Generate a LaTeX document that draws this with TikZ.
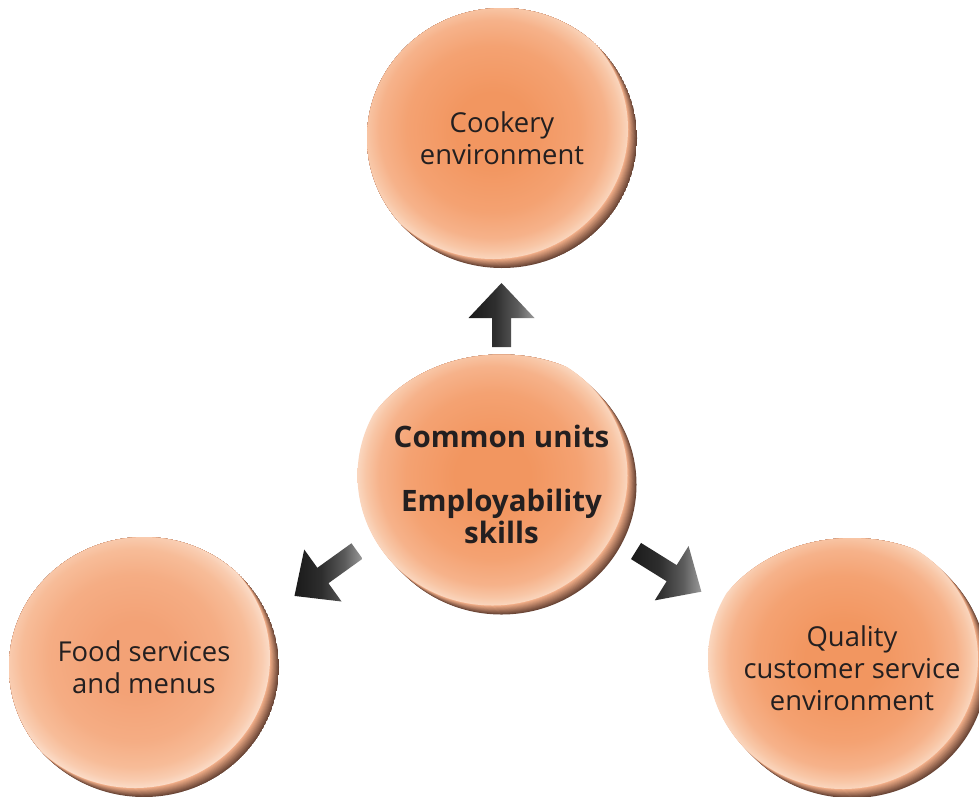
\documentclass[tikz,border=0pt]{standalone}
\usepackage{fontspec}
\setmainfont{Open Sans}
\usetikzlibrary{calc,shapes.geometric}
\definecolor{txt}{HTML}{231F20}
\definecolor{oA}{HTML}{F29660}
\definecolor{oB}{HTML}{F4A272}
\definecolor{oC}{HTML}{F6B28A}
\definecolor{oD}{HTML}{F8C6A6}
\definecolor{oE}{HTML}{FAD6BE}
\definecolor{lA}{HTML}{F3A276}
\definecolor{lB}{HTML}{F5AD84}
\definecolor{lC}{HTML}{F7BC98}
\definecolor{lD}{HTML}{F9CCB0}
\definecolor{lE}{HTML}{FBDCC8}
\definecolor{rA}{HTML}{6A4536}
\definecolor{rZ}{HTML}{F2AE88}
\definecolor{aA}{HTML}{1A1A1A}
\definecolor{aB}{HTML}{2E2E2E}
\definecolor{aC}{HTML}{5C5C5C}
\definecolor{aD}{HTML}{9A9A9A}
\pgfdeclareradialshading{ballO}{\pgfpoint{0bp}{0bp}}{color(0bp)=(oA); color(7bp)=(oA); color(16bp)=(oB); color(21bp)=(oC); color(23.5bp)=(oD); color(25bp)=(oE); color(50bp)=(oE)}
\pgfdeclareradialshading{ballL}{\pgfpoint{0bp}{0bp}}{color(0bp)=(lA); color(7bp)=(lA); color(16bp)=(lB); color(21bp)=(lC); color(23.5bp)=(lD); color(25bp)=(lE); color(50bp)=(lE)}
\pgfdeclarehorizontalshading{arrowsh}{100bp}{color(0bp)=(aA); color(25bp)=(aA); color(45bp)=(aB); color(62bp)=(aC); color(75bp)=(aD); color(100bp)=(aD)}
\newcommand\ballfill[1]{%
  \coordinate (bc) at (path picture bounding box.center);
  \foreach \k in {0,...,11}{%
    \pgfmathsetmacro\pct{\k*9}%
    \pgfmathsetmacro\off{\k*0.75}%
    \fill[rZ!\pct!rA] ([shift={(-\off pt,\off pt)}]bc) ellipse (135pt and 130pt);
  }
  \shade[shading=#1] ([shift={(-9pt,9pt)}]bc) ellipse (135pt and 130pt);
}
\newcommand\blockarr[4]{% tail, angle, shaft length, head half width
  \begin{scope}[shift={(#1)}, rotate=#2]
    \pgfmathsetmacro\myhl{#3+35}
    \shade[shading=arrowsh] (0pt,-9.5pt) -- (#3pt,-9.5pt) -- (#3pt,-#4pt) -- (\myhl pt,0pt)
      -- (#3pt,#4pt) -- (#3pt,9.5pt) -- (0pt,9.5pt) -- cycle;
  \end{scope}}
\tikzset{
  ball/.style={ellipse, minimum width=270pt, minimum height=260pt, inner sep=0pt,
    align=center, text=txt, font=\fontsize{27.4}{32}\selectfont,
    path picture={\ballfill{#1}}},
  ball/.default=ballO,
  bold/.style={font=\fontsize{29.5}{32}\selectfont\bfseries}
}
\begin{document}
\begin{tikzpicture}[x=1pt,y=-1pt]
  \useasboundingbox (0,0) rectangle (979,796);
  \clip (0,0) rectangle (979,796);
  \fill[white] (0,0) rectangle (979,796);
  \node[ball] (top) at (502,138) {Cookery\\environment};
  \node[ball, bold] (mid) at (501.5,484.5) {Common units\\[32pt]Employability\\skills};
  \node[ball=ballL] (left) at (144,667) {Food services\\and menus};
  \node[ball] (right) at (852,668) {Quality\\customer service\\environment};
  \coordinate (aup) at (501.5,347);
  \coordinate (aleft) at (357,551);
  \coordinate (aright) at (636,551);
  \blockarr{aup}{90}{29}{33}
  \blockarr{aleft}{215.7}{42}{32}
  \blockarr{aright}{-31.9}{42}{32}
\end{tikzpicture}
\end{document}
